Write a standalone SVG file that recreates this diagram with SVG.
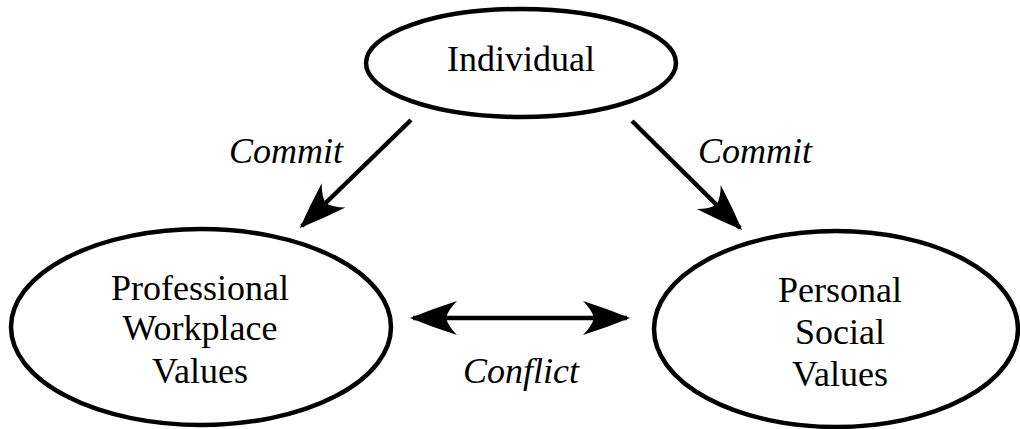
<svg xmlns="http://www.w3.org/2000/svg" width="1020" height="429" viewBox="0 0 1020 429">
<style>
.node{fill:#fff;stroke:#000;stroke-width:4.5}
.conn{stroke:#000;stroke-width:4.5;fill:none}
</style>
<defs>
<marker id="ah" viewBox="-50 -18 52 36" markerWidth="52" markerHeight="36" refX="-3" refY="0" orient="auto-start-reverse" markerUnits="userSpaceOnUse">
<path d="M0,0 Q-22,-9 -47,-17 Q-38,-8 -36,0 Q-38,8 -47,17 Q-22,9 0,0 Z" fill="#000"/>
</marker>
</defs>
<rect width="1020" height="429" fill="#fff"/>
<g id="individual">
<ellipse class="node" cx="521" cy="63" rx="155" ry="54"/>
<text x="521" y="71" style="font-family:'Liberation Serif',serif;font-size:36px" text-anchor="middle">Individual</text>
</g>
<g id="professional">
<ellipse class="node" cx="201" cy="327" rx="190" ry="98"/>
<text x="200" y="300" style="font-family:'Liberation Serif',serif;font-size:36px" text-anchor="middle">Professional</text>
<text x="200" y="340" style="font-family:'Liberation Serif',serif;font-size:36px" text-anchor="middle">Workplace</text>
<text x="200" y="383" style="font-family:'Liberation Serif',serif;font-size:36px" text-anchor="middle">Values</text>
</g>
<g id="personal">
<ellipse class="node" cx="836" cy="329" rx="182" ry="98"/>
<text x="840" y="302" style="font-family:'Liberation Serif',serif;font-size:36px" text-anchor="middle">Personal</text>
<text x="840" y="344" style="font-family:'Liberation Serif',serif;font-size:36px" text-anchor="middle">Social</text>
<text x="840" y="386" style="font-family:'Liberation Serif',serif;font-size:36px" text-anchor="middle">Values</text>
</g>
<g id="connectors">
<line class="conn" x1="411" y1="120" x2="302" y2="226" marker-end="url(#ah)"/>
<line class="conn" x1="632" y1="121" x2="740" y2="228" marker-end="url(#ah)"/>
<line class="conn" x1="413" y1="318" x2="627" y2="318" marker-start="url(#ah)" marker-end="url(#ah)"/>
<text x="286" y="163" style="font-family:'Liberation Serif',serif;font-size:36px;font-style:italic" text-anchor="middle">Commit</text>
<text x="755" y="163" style="font-family:'Liberation Serif',serif;font-size:36px;font-style:italic" text-anchor="middle">Commit</text>
<text x="521" y="383" style="font-family:'Liberation Serif',serif;font-size:36px;font-style:italic" text-anchor="middle">Conflict</text>
</g>
</svg>
